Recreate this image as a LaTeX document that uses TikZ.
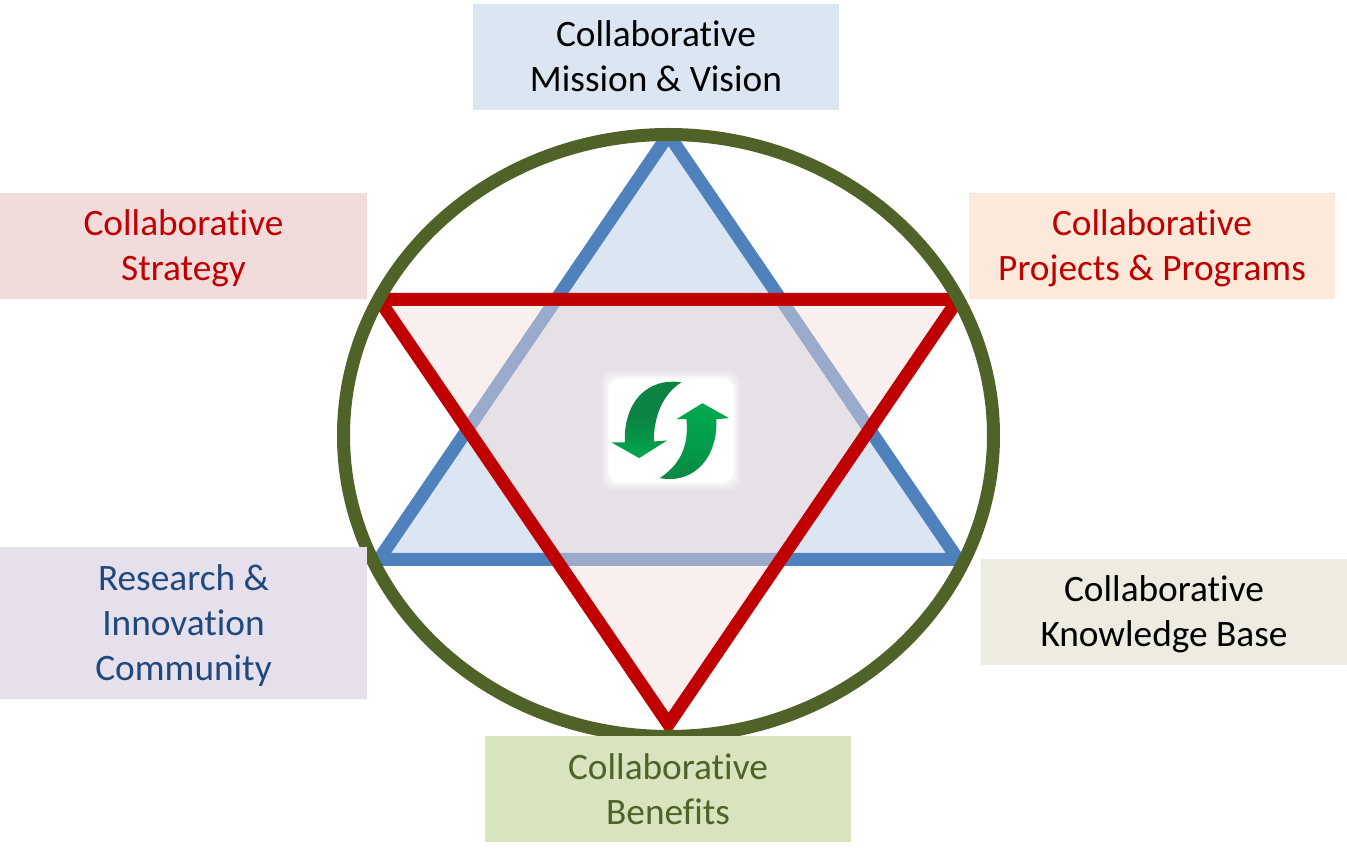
\documentclass[tikz,border=0pt]{standalone}
\usepackage{fontspec}
\setmainfont[Ligatures=NoCommon]{Carlito}
\definecolor{blueline}{HTML}{4F81BD}
\definecolor{bluefill}{HTML}{DCE6F2}
\definecolor{redline}{HTML}{C00000}
\definecolor{redfill}{HTML}{F2DCDB}
\definecolor{ringgreen}{HTML}{4F6228}
\definecolor{orangefill}{HTML}{FDE9D9}
\definecolor{purplefill}{HTML}{E6E0EC}
\definecolor{tanfill}{HTML}{EEECE1}
\definecolor{greenfill}{HTML}{D7E4BD}
\definecolor{navytext}{HTML}{1F497D}
\definecolor{arrowdark}{HTML}{0B8443}
\definecolor{arrowlight}{HTML}{00A84F}
\newcommand{\lowerline}{\rule{0pt}{8.8pt}}
\begin{document}
\begin{tikzpicture}[
        label box/.style={rectangle, minimum width=3.66cm, minimum height=1.06cm, inner sep=0pt, align=center, font=\fontsize{10.62}{12.8}\selectfont},
        triangle line/.style={line width=0.13cm, miter limit=10},
        swap arrow/.style={draw=none}
    ]
        \useasboundingbox (0,0) rectangle (13.47,8.57);

        % Triangoli
        \begin{scope}
            \clip (6.685,4.215) ellipse (3.25cm and 3.01cm);
            \draw[triangle line, draw=blueline, fill=bluefill] (3.79,2.977) -- (9.58,2.977) -- (6.685,7.224) -- cycle;
            \fill[redfill, fill opacity=0.46] (3.79,5.575) -- (9.58,5.575) -- (6.685,1.328) -- cycle;
            \draw[triangle line, draw=redline] (3.79,5.575) -- (9.58,5.575) -- (6.685,1.328) -- cycle;
        \end{scope}

        % Cerchio
        \draw[ringgreen, line width=0.13cm] (6.685,4.215) ellipse (3.25cm and 3.01cm);

        % Icona centrale
        \begin{scope}[shift={(5.8,5.07)}, x=0.00333cm, y=-0.00333cm]
            \foreach \grow/\fade in {24/0.12, 18/0.2, 12/0.3, 6/0.45, 0/1}
                \fill[white, opacity=\fade, rounded corners=0.12cm] (85-\grow,85-\grow) rectangle (462+\grow,400+\grow);
            \shade[swap arrow, top color=arrowdark, bottom color=arrowlight, middle color=arrowdark]
                (305,97) .. controls (195,82) and (130,165) .. (135,278) -- (95,278) -- (178,325) -- (262,272) -- (222,275) .. controls (222,205) and (245,135) .. (305,97) -- cycle;
            \shade[swap arrow, top color=arrowlight, bottom color=arrowdark, middle color=arrowlight!70!arrowdark]
                (240,385) .. controls (345,405) and (415,320) .. (410,208) -- (448,205) -- (368,160) -- (290,208) -- (320,208) .. controls (328,290) and (300,345) .. (240,385) -- cycle;
        \end{scope}

        % Etichette
        \node[label box, fill=bluefill] (mission) at (6.56,8.00) {Collaborative\\Mission \& Vision\rule[-0.6pt]{0pt}{0pt}};
        \node[label box, fill=redfill, text=redline, minimum width=3.67cm] (strategy) at (1.835,6.11) {\lowerline Collaborative\\Strategy};
        \node[label box, fill=orangefill, text=redline] (projects) at (11.52,6.11) {\lowerline Collaborative\\Projects \& Programs};
        \node[label box, fill=purplefill, text=navytext, minimum width=3.67cm, minimum height=1.52cm] (research) at (1.835,2.34) {\lowerline Research \&\\Innovation\\Community};
        \node[label box, fill=tanfill] (knowledge) at (11.64,2.45) {\lowerline Collaborative\\Knowledge Base};
        \node[label box, fill=greenfill, text=ringgreen] (benefits) at (6.68,0.68) {Collaborative\\Benefits};
    \end{tikzpicture}
\end{document}
